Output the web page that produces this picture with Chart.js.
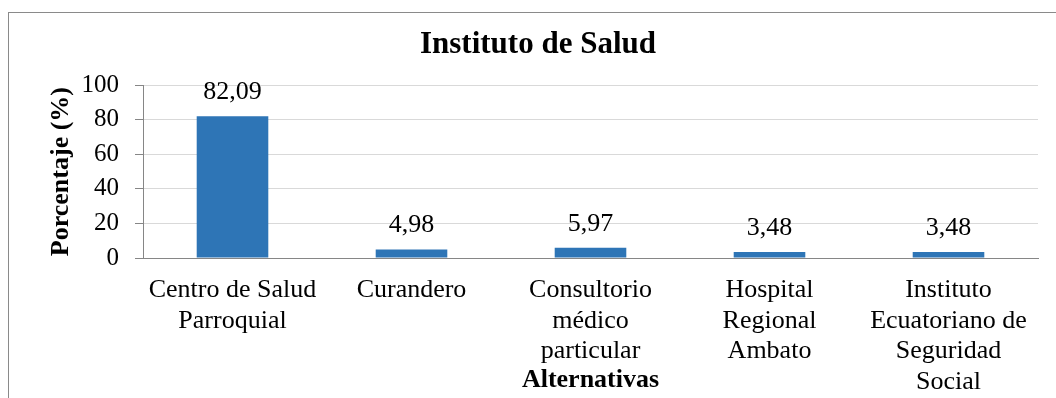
<!DOCTYPE html>
<html>
<head>
<meta charset="utf-8">
<script src="https://cdn.jsdelivr.net/npm/chart.js@4/dist/chart.umd.min.js"></script>
<style>
  html, body { margin: 0; padding: 0; background: #fff; overflow: hidden; }
  #marco { position: absolute; left: 8px; top: 12px; width: 1200px; height: 600px; border: 1px solid #8a8a8a; }
  #grafico { position: absolute; left: 0; top: 0; }
</style>
</head>
<body>
<div id="marco"></div>
<canvas id="grafico" width="1056" height="398"></canvas>
<script>
// datos del gráfico
const alternativas = [
  ["Centro de Salud", "Parroquial"],
  ["Curandero"],
  ["Consultorio", "médico", "particular"],
  ["Hospital", "Regional", "Ambato"],
  ["Instituto", "Ecuatoriano de", "Seguridad", "Social"]
];
const porcentajes = [82.09, 4.98, 5.97, 3.48, 3.48];
const ticksY = [0, 20, 40, 60, 80, 100];

const fuente = "'Liberation Serif', 'Times New Roman', serif";
const grisEje = "#868686";
const grisGrid = "#d9d9d9";

// etiquetas de valor encima de cada barra
const etiquetasValor = {
  id: "etiquetasValor",
  afterDatasetsDraw(chart) {
    const ctx = chart.ctx;
    const meta = chart.getDatasetMeta(0);
    ctx.save();
    ctx.font = "26px " + fuente;
    ctx.fillStyle = "#000";
    ctx.textAlign = "center";
    ctx.textBaseline = "alphabetic";
    meta.data.forEach((barra, i) => {
      const txt = porcentajes[i].toFixed(2).replace(".", ",");
      ctx.fillText(txt, barra.x, barra.y - 17);
    });
    ctx.restore();
  }
};

new Chart(document.getElementById("grafico"), {
  type: "bar",
  data: {
    labels: alternativas,
    datasets: [{
      data: porcentajes,
      backgroundColor: "#2e75b6",
      barPercentage: 0.8,
      categoryPercentage: 0.5
    }]
  },
  options: {
    responsive: false,
    animation: false,
    layout: { padding: { left: 38, right: 18, top: 12, bottom: 2 } },
    plugins: {
      legend: { display: false },
      tooltip: { enabled: false },
      title: {
        display: true,
        text: "Instituto de Salud",
        color: "#000",
        font: { family: fuente, size: 31, weight: "bold" },
        padding: { top: 14, bottom: 22 }
      }
    },
    scales: {
      x: {
        grid: { display: false, drawTicks: false },
        border: { display: true, color: grisEje },
        ticks: {
          color: "#000",
          font: { family: fuente, size: 26, lineHeight: 1.175 },
          padding: 17,
          maxRotation: 0,
          autoSkip: false
        },
        title: {
          display: true,
          text: "Alternativas",
          color: "#000",
          font: { family: fuente, size: 26, weight: "bold" },
          padding: { top: 0, bottom: 0 }
        },
        afterFit(scale) { scale.height = 138; }
      },
      y: {
        min: 0,
        max: 100,
        afterBuildTicks(scale) { scale.ticks = ticksY.map(v => ({ value: v })); },
        grid: {
          color: c => (c.tick && c.tick.value === 0 ? grisEje : grisGrid),
          tickColor: grisEje,
          tickLength: 8,
          drawTicks: true
        },
        border: { display: true, color: grisEje },
        ticks: {
          color: "#000",
          font: { family: fuente, size: 25 },
          padding: 16
        },
        title: {
          display: true,
          text: "Porcentaje (%)",
          color: "#000",
          font: { family: fuente, size: 26, weight: "bold" },
          padding: { top: 8, bottom: 0 }
        },
        afterFit(scale) { scale.width = 105; }
      }
    }
  },
  plugins: [etiquetasValor]
});
</script>
</body>
</html>
